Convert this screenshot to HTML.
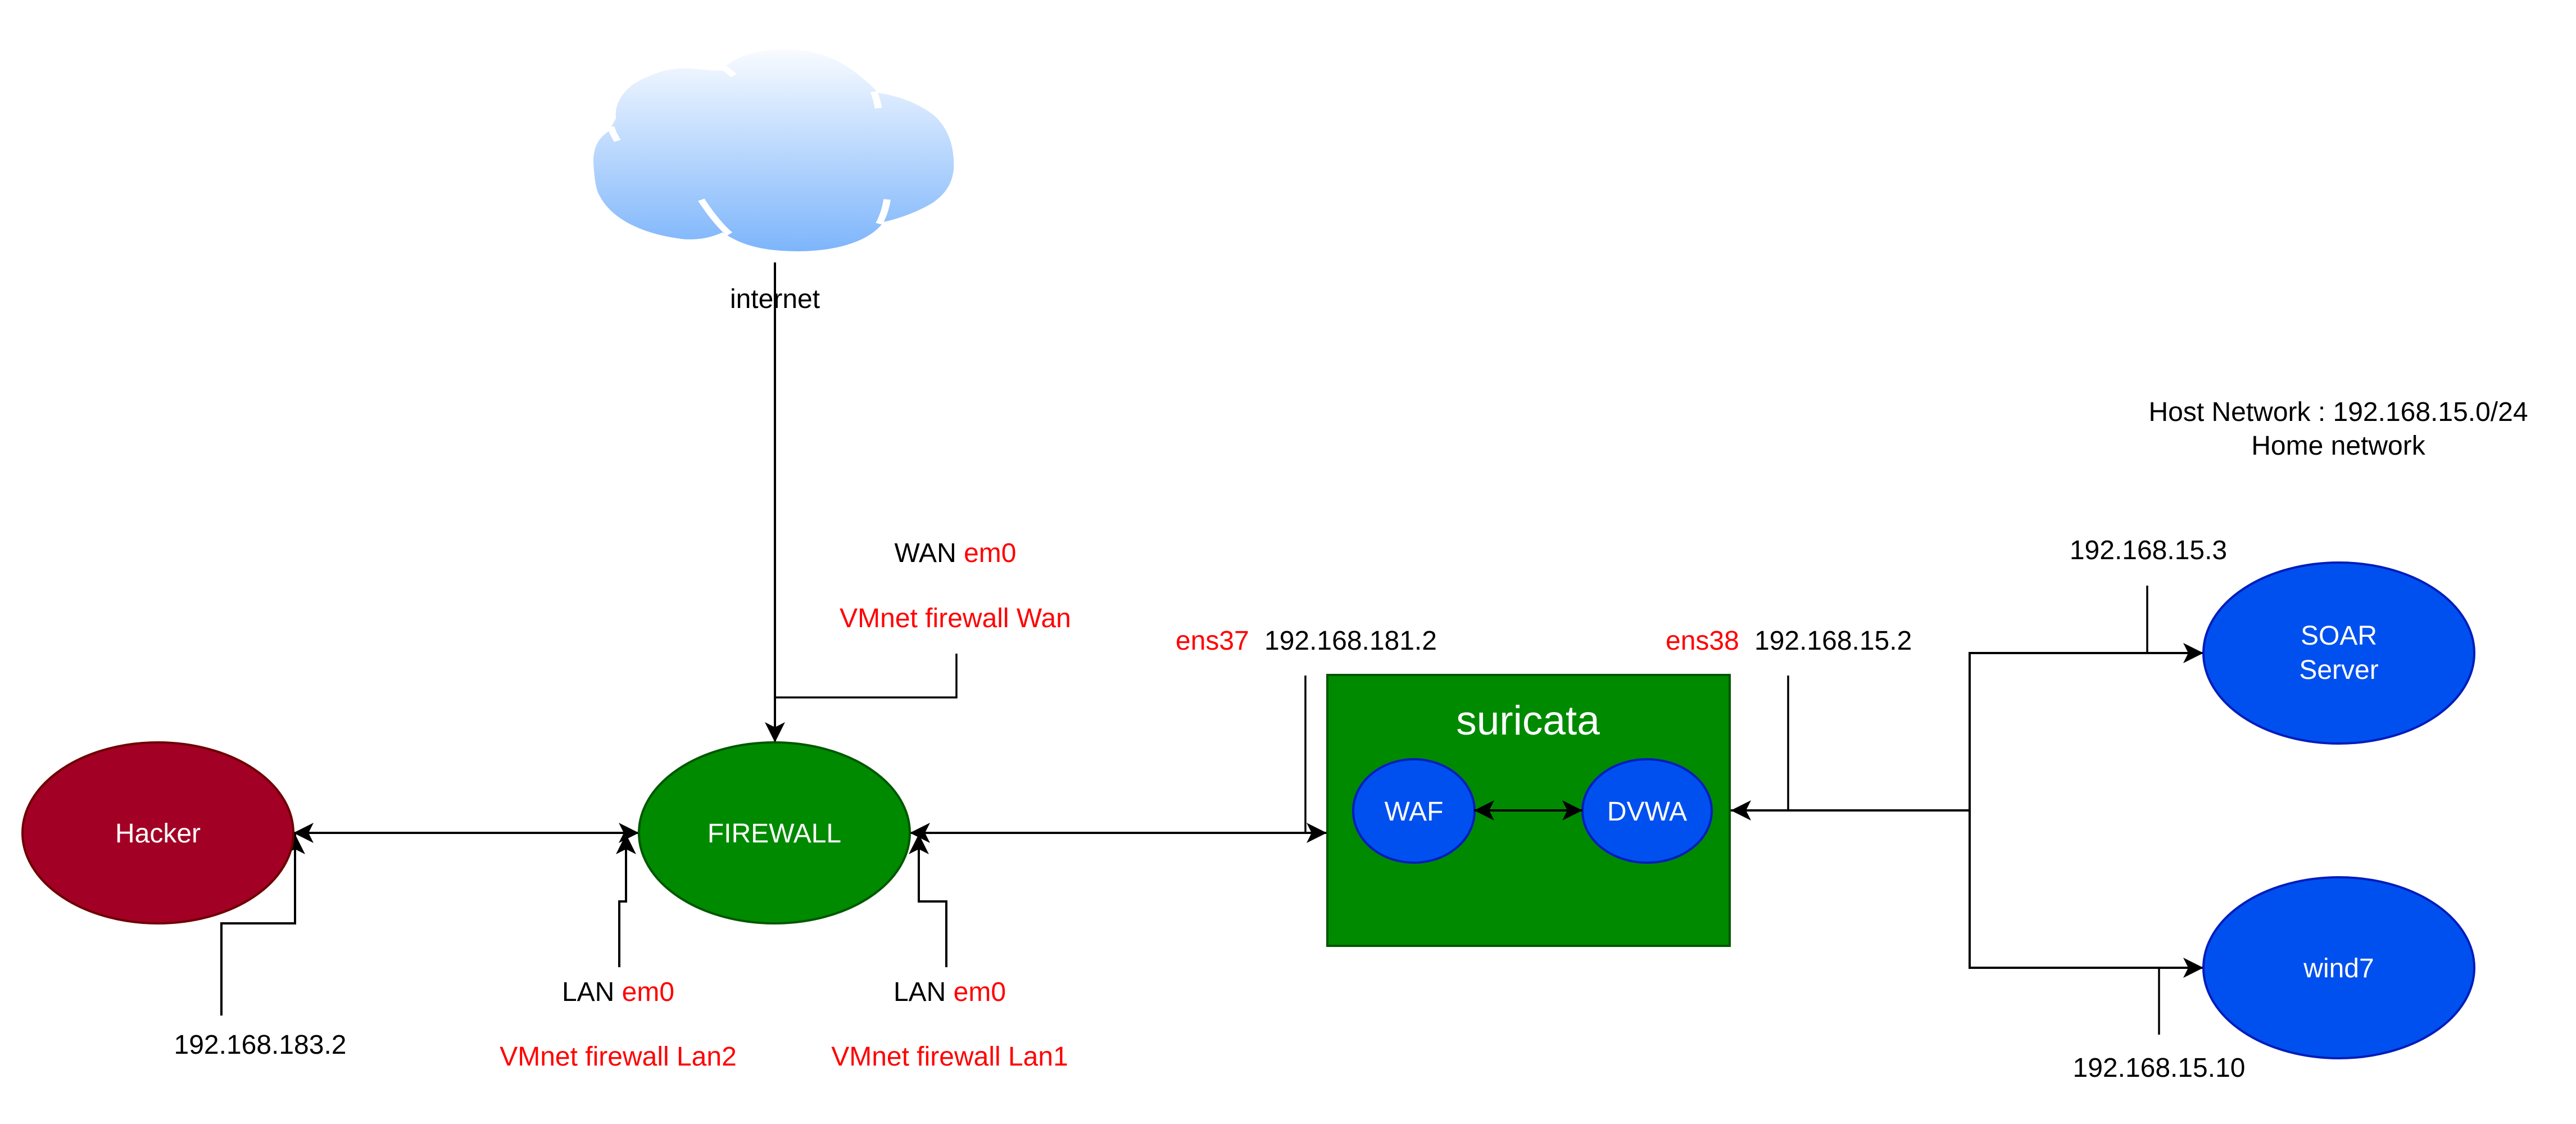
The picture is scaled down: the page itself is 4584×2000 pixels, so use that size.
<!DOCTYPE html>
<html><head><meta charset="utf-8"><style>
html,body{margin:0;padding:0;background:#fff;}
svg{display:block;}
text{font-family:"Liberation Sans",Arial,sans-serif;font-size:48px;}
</style></head><body>
<svg width="4584" height="2000" viewBox="0 0 4584 2000" xmlns="http://www.w3.org/2000/svg">
<defs>
<linearGradient id="cg" x1="0" y1="0" x2="0" y2="1">
<stop offset="0" stop-color="#f8fbff"/><stop offset="1" stop-color="#7db5fb"/>
</linearGradient>
<marker id="ar" markerUnits="userSpaceOnUse" markerWidth="40" markerHeight="40" viewBox="0 -20 40 40" refX="36" refY="0" orient="auto-start-reverse">
<path d="M0,-18 L36,0 L0,18 L9,0 Z" fill="#000"/>
</marker>
</defs>

<!-- cloud -->
<g transform="translate(1050,82) scale(0.4209,0.3055)">
<path fill="url(#cg)" d="M15,700 C10,600 30,540 80,495 L110,420 C100,330 150,240 210,200 C270,160 320,130 400,130 C460,130 520,150 580,140 L565,125 C620,60 700,20 820,20 C880,20 980,30 1070,105 C1120,150 1170,200 1218,272 C1300,290 1390,330 1460,410 C1510,480 1535,560 1538,680 C1540,780 1510,860 1440,920 C1390,960 1320,1000 1240,1025 C1200,1110 1080,1195 880,1195 C700,1195 620,1140 560,1085 C520,1110 470,1130 400,1125 C230,1100 90,1010 40,870 C30,850 20,800 15,700 Z"/>
<g fill="none" stroke="#fff" stroke-width="30">
<path d="M470,895 C520,1000 560,1060 590,1095"/>
<path d="M1256,893 C1248,960 1235,1000 1222,1035"/>
<path d="M1219,362 C1214,320 1208,295 1200,265"/>
<path d="M116,552 C102,520 94,500 88,470"/>
<path d="M608,172 C590,150 575,135 560,120"/>
</g>
</g>

<!-- connectors -->
<g fill="none" stroke="#000" stroke-width="4">
<path d="M1379,467 L1379,1321" marker-end="url(#ar)"/>
<path d="M1702,1163 V1241 H1379" stroke-width="3.5"/>
<path d="M522,1482 L1137,1482" marker-start="url(#ar)" marker-end="url(#ar)"/>
<path d="M394,1807 V1643 H525 V1484" marker-end="url(#ar)"/>
<path d="M1102,1721 V1604 H1114 V1484" marker-end="url(#ar)"/>
<path d="M1684,1721 V1604 H1635 V1484" marker-end="url(#ar)"/>
<path d="M1619,1482 L2361,1482" marker-start="url(#ar)" marker-end="url(#ar)"/>
<path d="M2323,1202 V1482" stroke-width="3.5"/>
<path d="M3505,1442 L3080,1442" marker-end="url(#ar)"/>
<path d="M3182,1202 V1442" stroke-width="3.5"/>
<path d="M3505,1442 V1162 H3921" marker-end="url(#ar)"/>
<path d="M3505,1442 V1722 H3921" marker-end="url(#ar)"/>
<path d="M3821,1042 V1162" stroke-width="3.5"/>
<path d="M3842,1722 V1841" stroke-width="3.5"/>
</g>

<!-- nodes -->
<ellipse cx="281" cy="1482" rx="241" ry="161" fill="#a20025" stroke="#6f0000" stroke-width="4"/>
<ellipse cx="1378" cy="1482" rx="241" ry="161" fill="#008a00" stroke="#005700" stroke-width="4"/>
<rect x="2362" y="1201" width="716" height="482" fill="#008a00" stroke="#005700" stroke-width="4"/>
<ellipse cx="2516" cy="1443" rx="108" ry="92" fill="#0050ef" stroke="#001dbc" stroke-width="4"/>
<ellipse cx="2931" cy="1443" rx="115" ry="92" fill="#0050ef" stroke="#001dbc" stroke-width="4"/>
<path d="M2623,1442 L2816,1442" fill="none" stroke="#000" stroke-width="4" marker-start="url(#ar)" marker-end="url(#ar)"/>
<ellipse cx="4162" cy="1162" rx="241" ry="161" fill="#0050ef" stroke="#001dbc" stroke-width="4"/>
<ellipse cx="4162" cy="1722" rx="241" ry="161" fill="#0050ef" stroke="#001dbc" stroke-width="4"/>

<!-- text -->
<g text-anchor="middle" fill="#000">
<text x="1379" y="548">internet</text>
<text x="1700" y="1000">WAN <tspan fill="#ff0000">em0</tspan></text>
<text x="1700" y="1116" fill="#ff0000">VMnet firewall Wan</text>
<text x="463" y="1875">192.168.183.2</text>
<text x="1100" y="1781">LAN <tspan fill="#ff0000">em0</tspan></text>
<text x="1100" y="1896" fill="#ff0000">VMnet firewall Lan2</text>
<text x="1690" y="1781">LAN <tspan fill="#ff0000">em0</tspan></text>
<text x="1690" y="1896" fill="#ff0000">VMnet firewall Lan1</text>
<text x="281" y="1499" fill="#fff">Hacker</text>
<text x="1378" y="1499" fill="#fff">FIREWALL</text>
<text x="2719" y="1307" fill="#fff" style="font-size:73px">suricata</text>
<text x="2516" y="1460" fill="#fff">WAF</text>
<text x="2931" y="1460" fill="#fff">DVWA</text>
<text x="4161" y="749">Host Network : 192.168.15.0/24</text>
<text x="4161" y="809">Home network</text>
<text x="3823" y="995">192.168.15.3</text>
<text x="4162" y="1147" fill="#fff">SOAR</text>
<text x="4162" y="1208" fill="#fff">Server</text>
<text x="4162" y="1739" fill="#fff">wind7</text>
<text x="3842" y="1916">192.168.15.10</text>
</g>
<text x="2092" y="1156" fill="#ff0000">ens37</text>
<text x="2250" y="1156" fill="#000">192.168.181.2</text>
<text x="2964" y="1156" fill="#ff0000">ens38</text>
<text x="3122" y="1156" fill="#000">192.168.15.2</text>
</svg>
</body></html>
